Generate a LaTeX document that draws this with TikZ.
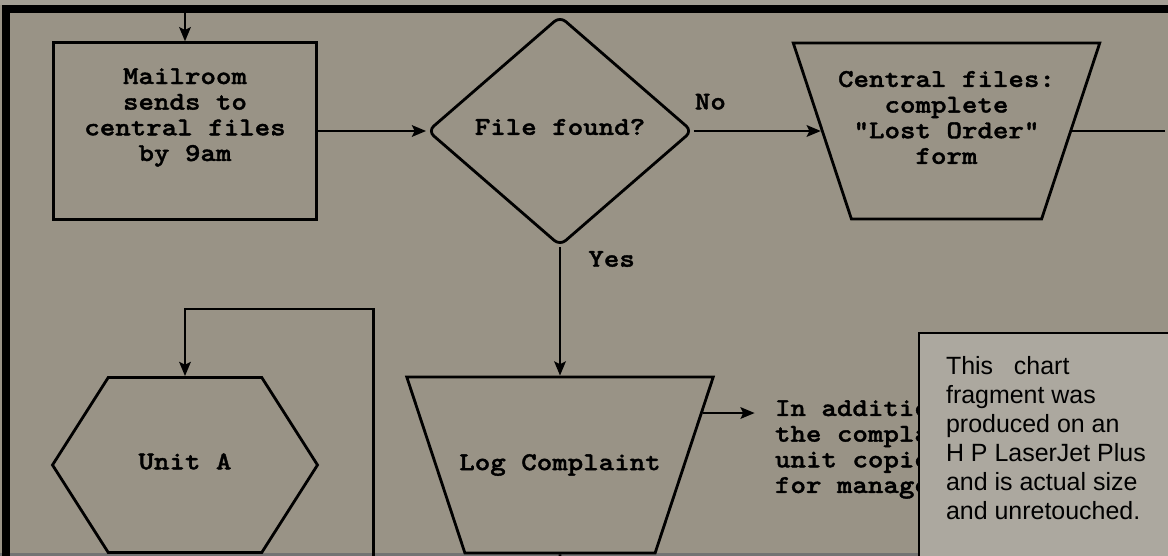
\documentclass[tikz,border=0pt]{standalone}
\usepackage{fontspec}
\newfontfamily\chartmono{lmmonolt10-bold.otf}[FakeStretch=1.15, FakeBold=1.5]
\newfontfamily\notefont{Liberation Sans}
\usepackage{tikz}
\usetikzlibrary{shapes.geometric, shapes.symbols, arrows.meta, positioning}

\definecolor{paper}{RGB}{153,147,134}
\definecolor{notepaper}{RGB}{172,168,159}
\definecolor{edgestrip}{RGB}{163,158,148}

\begin{document}
\begin{tikzpicture}[node distance=7.5cm]
    \tikzstyle{process} = [rectangle, minimum width=5.27cm, minimum height=3.53cm, draw=black, line width=1.6pt]
    \tikzstyle{decision} = [diamond, minimum width=5.3cm, minimum height=4.6cm, rounded corners=0.15cm, inner sep=2pt, draw=black, line width=1.6pt]
    \tikzstyle{manual} = [trapezium, trapezium stretches=true, shape border rotate=180, trapezium left angle=73, trapezium right angle=73, minimum width=6.13cm, minimum height=3.52cm, inner sep=2pt, draw=black, line width=1.6pt]
    \tikzstyle{unitbox} = [signal, signal to=west and east, signal pointer angle=115, minimum width=5.3cm, minimum height=3.5cm, inner sep=2pt, draw=black, line width=1.6pt]
    \tikzstyle{txt} = [font=\chartmono\fontsize{14.6pt}{14.6pt}\selectfont, align=center]
    \tikzstyle{lbl} = [font=\chartmono\fontsize{14.6pt}{14.6pt}\selectfont, inner sep=0pt]
    \tikzstyle{notebox} = [rectangle, anchor=north west, draw=black, line width=1.2pt, fill=notepaper, inner xsep=0.54cm, inner ysep=0.46cm, font=\notefont\fontsize{14.2pt}{16.5pt}\selectfont]
    \tikzstyle{arrow} = [line width=1.6pt, -{Stealth[length=8pt, width=6.5pt, inset=1.5pt]}]
    \tikzstyle{line} = [line width=1.6pt]

    % page and frame
    \useasboundingbox (0,0) rectangle (23.36,-11.12);
    \clip (0,0) rectangle (23.36,-11.12);
    \fill [paper] (0,0) rectangle (23.36,-11.12);
    \fill [edgestrip] (0,0) rectangle (23.36,-0.1);
    \fill [black!55] (0,-11.06) rectangle (23.36,-11.12);
    \draw [line width=0.15cm] (0.12,-11.3) |- (23.5,-0.18);

    \node (mail) [process, label={[txt, yshift=0.27cm]center:{Mailroom\\sends to\\central files\\by 9am}}] at (3.70,-2.62) {};
    \node (dec) [decision, right of=mail, label={[txt, yshift=0.08cm]center:File found?}] {};
    \node (cent) [manual, right of=dec, xshift=0.23cm, label={[txt, yshift=0.27cm]center:{Central files:\\complete\\"Lost Order"\\form}}] {};
    \node (log) [manual, below of=dec, yshift=0.82cm, label={[txt]center:Log Complaint}] {};
    \node (unit) [unitbox, below of=mail, yshift=0.82cm, label={[txt, yshift=0.07cm]center:Unit A}] {};
    \node (extra) [txt, align=left, inner sep=0pt, right=1.78cm of log, yshift=0.31cm] {In additio\\the compla\\unit copie\\for manage};

    \coordinate (entry) at (3.70,-0.18);
    \coordinate (exitr) at (23.3,-2.62);
    \coordinate (logout) at (11.2,-11.3);
    \coordinate (loopin) at (7.47,-11.3);
    \coordinate (looptop) at (7.47,-6.18);

    \draw [arrow] (entry) -- (mail.north);
    \draw [arrow] (mail.east) -- (dec.west);
    \draw [arrow] (dec.east) -- node [lbl, pos=0.13, above=0.4cm] {No} (cent.west);
    \draw [line] (cent.east) -- (exitr);
    \draw [arrow] (dec.south) -- node [lbl, pos=0.09, right=0.54cm] {Yes} (log.north);
    \draw [arrow, shorten >=0.4cm] (log.20) -- (log.20 -| extra.west);
    \draw [line] (log.south) -- (logout);
    \draw [arrow] (loopin) -- (looptop) -| (unit.north);

    \node (note) [notebox] at (18.36,-6.64) {\begin{minipage}[t][5cm][t]{4.6cm}\raggedright
        This~~~chart\\fragment was\\produced on an\\H P LaserJet Plus\\and is actual size\\and unretouched.\end{minipage}};
\end{tikzpicture}
\end{document}
